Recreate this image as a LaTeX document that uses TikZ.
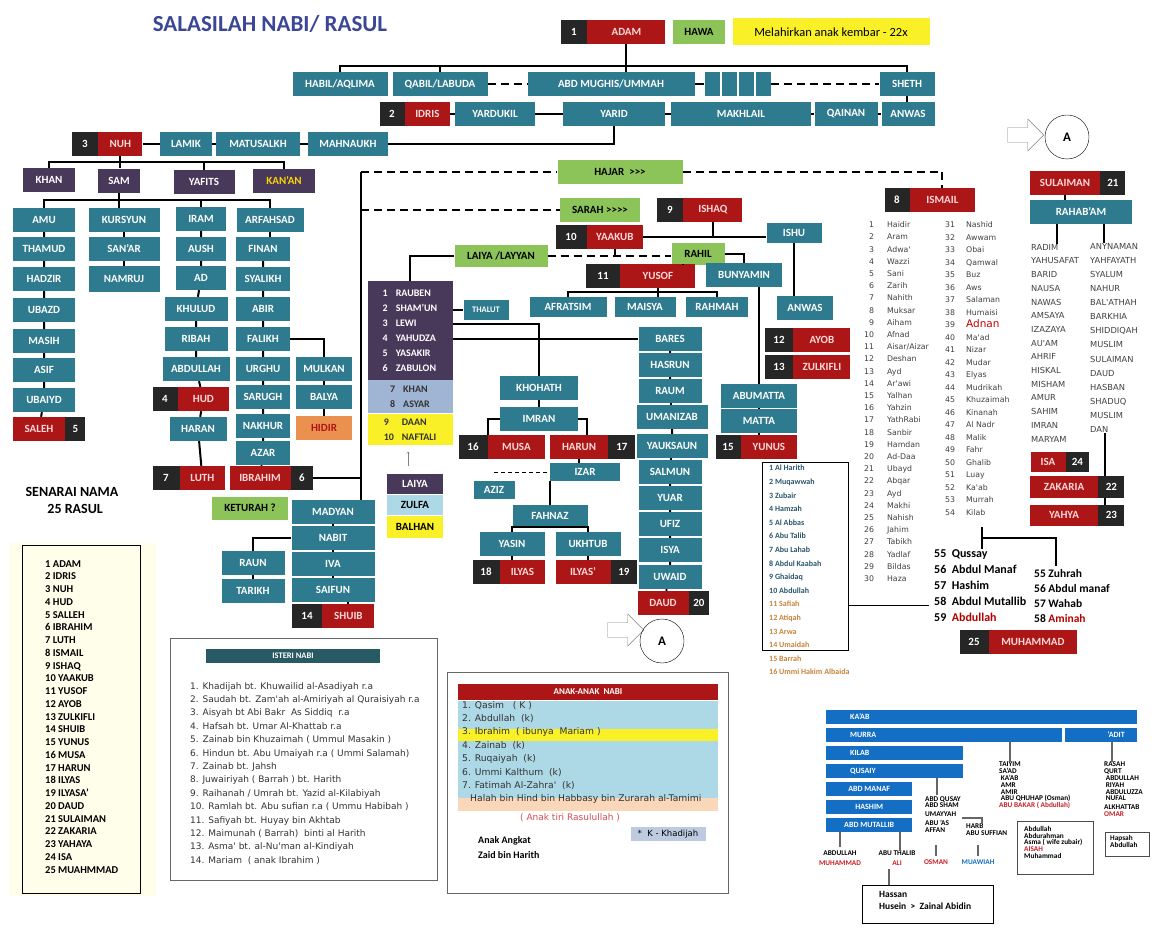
\documentclass[tikz,border=0pt]{standalone}
\usepackage{fontspec}
\setmainfont{Carlito}
\newfontfamily\listfont{DejaVu Sans}
\usetikzlibrary{positioning,shapes.arrows,backgrounds}
\definecolor{boxteal}{RGB}{46,122,142}
\definecolor{boxred}{RGB}{172,22,22}
\definecolor{boxdark}{RGB}{38,38,38}
\definecolor{boxpurple}{RGB}{72,56,90}
\definecolor{boxgreen}{RGB}{140,196,90}
\definecolor{boxyellow}{RGB}{250,240,40}
\definecolor{boxorange}{RGB}{235,145,80}
\definecolor{sonsblue}{RGB}{160,180,212}
\definecolor{qblue}{RGB}{20,110,195}
\definecolor{titleblue}{RGB}{60,70,150}
\definecolor{harithteal}{RGB}{40,85,105}
\definecolor{harithorange}{RGB}{200,130,60}
\definecolor{isteri}{RGB}{40,90,100}
\definecolor{lightblue}{RGB}{173,216,230}
\definecolor{peach}{RGB}{250,215,185}
\definecolor{notered}{RGB}{200,30,40}

\begin{document}
\begin{tikzpicture}[x=1pt,y=-1pt,
  box/.style={inner sep=0pt,minimum height=24,font=\fontsize{11}{12}\selectfont\bfseries,text=white},
  wd/.style={minimum width=#1},
  tb/.style={box,fill=boxteal},
  rb/.style={box,fill=boxred,text=red!15},
  nb/.style={box,fill=boxdark},
  pb/.style={box,fill=boxpurple},
  gb/.style={box,fill=boxgreen,text=black},
  ln/.style={line width=2pt},
  dl/.style={line width=2pt,dash pattern=on 8pt off 5pt},
  tl/.style={line width=1pt},
  lst/.style={anchor=north west,inner sep=0pt,align=left},
  qb/.style={inner sep=0pt,minimum height=14,fill=qblue,text=white,font=\fontsize{8}{9}\selectfont\bfseries},
  qt/.style={lst,font=\fontsize{7.3}{8.8}\selectfont\bfseries},
  ql/.style={line width=1.5pt,draw=black!60},
  ]
  \useasboundingbox (0,0) rectangle (1171,941);
  \node[text=titleblue,font=\fontsize{23}{24}\selectfont\bfseries] (title) at (270,24) {SALASILAH NABI/ RASUL};

  % adam and his children
  \node[nb,wd=26] (n1) at (574,32) {1};
  \node[rb,wd=78,right=0pt of n1] (adam) {ADAM};
  \node[gb,wd=52] (hawa) at (699,32) {HAWA};
  \node[box,fill=boxyellow,text=black,wd=197,minimum height=27,font=\fontsize{12.5}{13}\selectfont] (kembar) at (831,32) {Melahirkan anak kembar - 22x};
  \node[tb,wd=95] (habil) at (340,84) {HABIL/AQLIMA};
  \node[tb,wd=95] (qabil) at (440,84) {QABIL/LABUDA};
  \node[tb,wd=167] (abd) at (611,84) {ABD MUGHIS/UMMAH};
  \node[tb,wd=15] (sq1) at (712,84) {};
  \node[tb,wd=15] (sq2) at (729,84) {};
  \node[tb,wd=15] (sq3) at (746,84) {};
  \node[tb,wd=15] (sq4) at (763,84) {};
  \node[tb,wd=55] (sheth) at (907,84) {SHETH};
  \draw[ln] (habil.north) -- ++(0,-6) -| (sheth.north);
  \draw[ln] (qabil.north) -- ++(0,-6);
  \draw[ln] (adam.south) -- (adam.south |- abd.north);
  \draw[dl] (qabil.east) -- (abd.west);
  \draw[ln] (abd.east) -- (sq1.west);
  \draw[dl] (sq4.east) -- (sheth.west);

  \node[nb,wd=25] (n2) at (392,114) {2};
  \node[rb,wd=45,right=0pt of n2] (idris) {IDRIS};
  \node[tb,wd=80] (yardukil) at (495,114) {YARDUKIL};
  \node[tb,wd=102] (yarid) at (614,114) {YARID};
  \node[tb,wd=140] (makhlail) at (741,114) {MAKHLAIL};
  \node[tb,wd=63] (qainan) at (846,114) {QAINAN};
  \node[tb,wd=53] (anwas) at (908,114) {ANWAS};
  \draw[ln] (idris) -- (yardukil) -- (yarid) -- (makhlail) -- (qainan) -- (anwas);
  \draw[ln] (sheth.south) -- (sheth.south |- anwas.north);

  \node[nb,wd=26] (n3) at (85,144) {3};
  \node[rb,wd=44,right=0pt of n3] (nuh) {NUH};
  \node[tb,wd=52] (lamik) at (186,144) {LAMIK};
  \node[tb,wd=84] (matusalkh) at (258,144) {MATUSALKH};
  \node[tb,wd=80] (mahnaukh) at (348,144) {MAHNAUKH};
  \draw[ln] (nuh) -- (lamik) -- (matusalkh) -- (mahnaukh);
  \draw[ln] (yarid.south) |- (mahnaukh.east);

  % nuh and his sons
  \node[pb,wd=52] (khan) at (49,180) {KHAN};
  \node[pb,wd=42] (sam) at (119,181) {SAM};
  \node[pb,wd=61] (yafits) at (204,182) {YAFITS};
  \node[pb,wd=62,text=yellow!70!orange] (kanan) at (284,181) {KAN'AN};
  \draw[ln] (khan.north) -- ++(0,-6) -| (kanan.north);
  \draw[ln] (nuh.south) -- (nuh.south |- khan.north);
  \draw[ln] (yafits.north) -- ++(0,-8);

  \node[tb,wd=62] (amu) at (44,220) {AMU};
  \node[tb,wd=71] (kursyun) at (124,220) {KURSYUN};
  \node[tb,wd=50] (iram) at (201,219) {IRAM};
  \node[tb,wd=67] (arfahsad) at (270,220) {ARFAHSAD};
  \draw[ln] (amu.north) -- ++(0,-8) -| (arfahsad.north);
  \draw[ln] (sam.south) -- (sam.south |- kursyun.north);
  \draw[ln] (iram.north) -- ++(0,-7);

  \node[tb,wd=62] (thamud) at (44,249) {THAMUD};
  \node[tb,wd=62] (hadzir) at (44,279) {HADZIR};
  \node[tb,wd=62] (ubazd) at (44,310) {UBAZD};
  \node[tb,wd=62] (masih) at (44,341) {MASIH};
  \node[tb,wd=62] (asif) at (44,370) {ASIF};
  \node[tb,wd=62] (ubaiyd) at (44,400) {UBAIYD};
  \node[rb,wd=52] (saleh) at (39,429) {SALEH};
  \node[nb,wd=20,right=0pt of saleh] (n5) {5};
  \draw[ln] (amu) -- (thamud) -- (hadzir) -- (ubazd) -- (masih) -- (asif) -- (ubaiyd) -- (saleh);

  \node[tb,wd=71] (sanar) at (124,249) {SAN'AR};
  \node[tb,wd=71,minimum height=26] (namruj) at (124,279) {NAMRUJ};
  \draw[ln] (kursyun) -- (sanar) -- (namruj);

  \node[tb,wd=50] (aush) at (201,249) {AUSH};
  \node[tb,wd=50] (ad) at (201,278) {AD};
  \node[tb,wd=63] (khulud) at (196,309) {KHULUD};
  \node[tb,wd=63] (ribah) at (196,339) {RIBAH};
  \node[tb,wd=67] (abdullah) at (196,369) {ABDULLAH};
  \node[nb,wd=25] (n4) at (165,399) {4};
  \node[rb,wd=51,right=0pt of n4] (hud) {HUD};
  \node[tb,wd=57] (haran) at (198,429) {HARAN};
  \node[nb,wd=27] (n7) at (166,478) {7};
  \node[rb,wd=45,right=0pt of n7] (luth) {LUTH};
  \draw[ln] (iram) -- (aush) -- (ad) -- (khulud) -- (ribah) -- (abdullah) -- (hud) -- (haran) -- (luth);

  \node[tb,wd=54] (finan) at (263,249) {FINAN};
  \node[tb,wd=54] (syalikh) at (263,279) {SYALIKH};
  \node[tb,wd=54] (abir) at (263,309) {ABIR};
  \node[tb,wd=54] (falikh) at (263,339) {FALIKH};
  \node[tb,wd=54] (urghu) at (263,369) {URGHU};
  \node[tb,wd=54] (sarugh) at (263,397) {SARUGH};
  \node[tb,wd=54] (nakhur) at (263,426) {NAKHUR};
  \node[tb,wd=54] (azar) at (263,453) {AZAR};
  \node[rb,wd=61] (ibrahim) at (260,478) {IBRAHIM};
  \node[nb,wd=22,right=0pt of ibrahim] (n6) {6};
  \draw[ln] (arfahsad.south) -- (arfahsad.south |- finan.north);
  \draw[ln] (finan) -- (syalikh) -- (abir) -- (falikh) -- (urghu) -- (sarugh) -- (nakhur) -- (azar) -- (ibrahim);

  \node[tb,wd=56] (mulkan) at (324,369) {MULKAN};
  \node[tb,wd=56] (balya) at (324,397) {BALYA};
  \node[box,fill=boxorange,text=boxred,wd=56] (hidir) at (324,428) {HIDIR};
  \draw[ln] (falikh.east) -| (mulkan.north);
  \draw[ln] (mulkan) -- (balya) -- (hidir);

  % ibrahim and his wives
  \node[gb,wd=125] (hajar) at (620,172) {HAJAR \ >{}>{}>};
  \node[gb,wd=80] (sarah) at (600,210) {SARAH >{}>{}>{}>};
  \coordinate (trunk) at (361,172);
  \draw[ln] (trunk) -- (trunk |- n6.east) -- (n6.east);
  \node[gb,wd=76,minimum height=23] (keturah) at (250,508) {KETURAH ?};
  \node[tb,wd=83] (madyan) at (333,512) {MADYAN};
  \node[tb,wd=83] (nabit) at (333,538) {NABIT};
  \node[tb,wd=83] (iva) at (333,564) {IVA};
  \node[tb,wd=83] (saifun) at (333,590) {SAIFUN};
  \node[nb,wd=30] (n14) at (307,616) {14};
  \node[rb,wd=52,right=0pt of n14] (shuib) {SHUIB};
  \draw[ln] (trunk) -- (trunk |- madyan.north);
  \draw[ln] (madyan) -- (nabit) -- (iva) -- (saifun);
  \draw[ln] (saifun.south -| shuib.north) -- (shuib.north);
  \node[tb,wd=63] (raun) at (253,563) {RAUN};
  \node[tb,wd=63] (tarikh) at (253,591) {TARIKH};
  \draw[ln] (nabit.west) -| (raun.north);
  \draw[ln] (raun) -- (tarikh);
  \draw[dl] (trunk) -- (hajar.west);
  \draw[dl] (trunk |- sarah.west) -- (sarah.west);

  \node[nb,wd=25] (n8) at (897,200) {8};
  \node[rb,wd=65,right=0pt of n8] (ismail) {ISMAIL};
  \draw[dl] (hajar.east) -| (ismail.north);

  % ishaq and yaakub
  \node[nb,wd=26] (n9) at (670,210) {9};
  \node[rb,wd=59,right=0pt of n9] (ishaq) {ISHAQ};
  \node[tb,wd=55,minimum height=20] (ishu) at (794,233) {ISHU};
  \node[nb,wd=31] (n10) at (571,237) {10};
  \node[rb,wd=56,right=0pt of n10] (yaakub) {YAAKUB};
  \draw[ln] (yaakub.east) -- (yaakub.east -| ishu.west);
  \draw[ln] (ishaq.south) -- (ishaq.south |- yaakub.east);
  \node[gb,wd=93,minimum height=22] (laiya) at (501,256) {LAIYA /LAYYAN};
  \node[gb,wd=53,minimum height=22] (rahil) at (698,254) {RAHIL};
  \draw[dl] (laiya.east) -- (laiya.east -| rahil.west);
  \draw[ln] (yaakub.south) -- (yaakub.south |- laiya.east);

  \node[box,fill=boxpurple,wd=85,minimum height=99,font=\fontsize{10}{15}\selectfont\bfseries] (sons1) at (410,331) {\begin{tabular}{@{}l@{\hspace{8pt}}l@{}}1&RAUBEN\\2&SHAM'UN\\3&LEWI\\4&YAHUDZA\\5&YASAKIR\\6&ZABULON\end{tabular}};
  \node[box,fill=sonsblue,text=black!80,wd=85,minimum height=33,font=\fontsize{10}{15}\selectfont\bfseries] (sons2) at (410,397) {\begin{tabular}{@{}l@{\hspace{8pt}}l@{}}7&KHAN\\8&ASYAR\end{tabular}\hspace{20pt}};
  \node[box,fill=boxyellow,text=black!80,wd=85,minimum height=31,font=\fontsize{10}{15}\selectfont\bfseries] (sons3) at (410,430) {\begin{tabular}{@{}l@{\hspace{8pt}}l@{}}9&DAAN\\10&NAFTALI\end{tabular}\hspace{8pt}};
  \draw[ln] (laiya.west) -| (sons1.north);
  \node[tb,wd=45,minimum height=20,font=\fontsize{8.5}{9}\selectfont\bfseries] (thalut) at (486,310) {THALUT};
  \draw[ln] (sons1.east |- thalut.west) -- (thalut.west);

  \node[box,fill=boxpurple,wd=56,minimum height=20] (laiya2) at (415,484) {LAIYA};
  \node[box,fill=lightblue,text=black,wd=56,minimum height=20] (zulfa) at (415,505) {ZULFA};
  \node[box,fill=boxyellow,text=black,wd=56,minimum height=22] (balhan) at (415,527) {BALHAN};
  \draw[->,black!50] (laiya2.north) ++(-7,-8) -- ++(0,-14);

  \node[nb,wd=34] (n11) at (603,276) {11};
  \node[rb,wd=75,right=0pt of n11] (yusof) {YUSOF};
  \node[tb,wd=76] (bunyamin) at (744,275) {BUNYAMIN};
  \draw[ln] ([xshift=-15pt]rahil.south) -- ([xshift=-15pt]rahil.south |- yusof.north);
  \draw[ln] (rahil.east) -| (bunyamin.north);
  \node[tb,wd=77,minimum height=20] (afratsim) at (568,307) {AFRATSIM};
  \node[tb,wd=61,minimum height=20] (maisya) at (645,307) {MAISYA};
  \node[tb,wd=62,minimum height=20] (rahmah) at (717,307) {RAHMAH};
  \draw[ln] (afratsim.north) -- ++(0,-5) -| (rahmah.north);
  \draw[ln] (yusof.south) -- (yusof.south |- afratsim.north);

  \node[tb,wd=76] (abumatta) at (759,396) {ABUMATTA};
  \node[tb,wd=76] (matta) at (759,421) {MATTA};
  \node[nb,wd=25] (n15) at (728,447) {15};
  \node[rb,wd=56,right=0pt of n15] (yunus) {YUNUS};
  \draw[ln] (abumatta.north) -- (abumatta.north |- bunyamin.south);
  \draw[ln] (abumatta) -- (matta);
  \draw[ln] (matta.south) -- (matta.south |- yunus.north);

  \node[tb,wd=56] (anwas2) at (805,308) {ANWAS};
  \node[nb,wd=28] (n12) at (779,340) {12};
  \node[rb,wd=57,right=0pt of n12] (ayob) {AYOB};
  \node[nb,wd=28] (n13) at (779,367) {13};
  \node[rb,wd=57,right=0pt of n13] (zulkifli) {ZULKIFLI};
  \draw[ln] (ishu.south) -- (ishu.south |- anwas2.north);

  % lewi and yahudza
  \node[tb,wd=78] (khohath) at (539,388) {KHOHATH};
  \node[tb,wd=78] (imran) at (539,419) {IMRAN};
  \draw[ln] ([yshift=7pt]sons1.east) -| (khohath.north);
  \draw[ln] (khohath) -- (imran);
  \node[nb,wd=29] (n16) at (473,447) {16};
  \node[rb,wd=57,right=0pt of n16] (musa) {MUSA};
  \node[rb,wd=58] (harun) at (579,447) {HARUN};
  \node[nb,wd=27,right=0pt of harun] (n17) {17};
  \draw[ln] (imran.west) -| (n16.north east);
  \draw[ln] (imran.east) -| ([xshift=8pt]harun.north);
  \node[tb,wd=70,minimum height=18] (izar) at (585,472) {IZAR};
  \node[tb,wd=41,minimum height=18] (aziz) at (494,490) {AZIZ};
  \draw[ln] (harun.south) -- (harun.south |- izar.north);
  \draw[tl,dash pattern=on 4pt off 3pt] (aziz.north |- izar.west) -- (izar.west);
  \node[tb,wd=75,minimum height=22] (fahnaz) at (550,516) {FAHNAZ};
  \draw[ln] (izar.south -| fahnaz.north) -- (fahnaz.north);
  \node[tb,wd=65] (yasin) at (512,544) {YASIN};
  \node[tb,wd=65] (ukhtub) at (588,544) {UKHTUB};
  \draw[ln] (yasin.north) -- ++(0,-5) -| (ukhtub.north);
  \node[nb,wd=27] (n18) at (486,572) {18};
  \node[rb,wd=45,right=0pt of n18] (ilyas) {ILYAS};
  \node[rb,wd=55] (ilyasb) at (583,572) {ILYAS'};
  \node[nb,wd=26,right=0pt of ilyasb] (n19) {19};
  \draw[ln] (yasin.south) -- (yasin.south |- ilyas.north);
  \draw[ln] (ukhtub.south) -- (ukhtub.south |- ilyasb.north);

  \node[tb,wd=63] (bares) at (670,339) {BARES};
  \node[tb,wd=63] (hasrun) at (670,365) {HASRUN};
  \node[tb,wd=63] (raum) at (670,391) {RAUM};
  \node[tb,wd=71] (umanizab) at (672,417) {UMANIZAB};
  \node[tb,wd=71] (yauksaun) at (672,446) {YAUKSAUN};
  \node[tb,wd=63] (salmun) at (670,472) {SALMUN};
  \node[tb,wd=63] (yuar) at (670,498) {YUAR};
  \node[tb,wd=63] (ufiz) at (670,524) {UFIZ};
  \node[tb,wd=63] (isya) at (670,550) {ISYA};
  \node[tb,wd=63] (uwaid) at (670,577) {UWAID};
  \node[rb,wd=51] (daud) at (663,603) {DAUD};
  \node[nb,wd=20,right=0pt of daud] (n20) {20};
  \draw[ln] (bares) -- (hasrun) -- (raum) -- (umanizab) -- (yauksaun) -- (salmun) -- (yuar) -- (ufiz) -- (isya) -- (uwaid) -- (daud);
  \draw[ln] (sons1.east |- bares.west) -- (bares.west);

  % links to A
  \node[single arrow,draw=black!50,fill=white,minimum height=36,minimum width=32,single arrow head extend=4pt] (arra) at (1022,135) {};
  \node[circle,draw,minimum size=44,font=\fontsize{13}{13}\selectfont\bfseries] (ca) at (1067,137) {A};
  \node[single arrow,draw=black!50,fill=white,minimum height=36,minimum width=32,single arrow head extend=4pt] (arrb) at (622,630) {};
  \node[circle,draw,minimum size=44,font=\fontsize{13}{13}\selectfont\bfseries] (cb) at (662,641) {A};

  % ismail line
  \node[lst,font=\listfont\fontsize{7.8}{12.2}\selectfont,text=black!75] (isml) at (864,219) {\begin{tabular}{@{}r@{\hspace{13pt}}l@{}}1&Haidir\\2&Aram\\3&Adwa'\\4&Wazzi\\5&Sani\\6&Zarih\\7&Nahith\\8&Muksar\\9&Aiham\\10&Afnad\\11&Aisar/Aizar\\12&Deshan\\13&Ayd\\14&Ar'awi\\15&Yalhan\\16&Yahzin\\17&YathRabi\\18&Sanbir\\19&Hamdan\\20&Ad-Daa\\21&Ubayd\\22&Abqar\\23&Ayd\\24&Makhi\\25&Nahish\\26&Jahim\\27&Tabikh\\28&Yadlaf\\29&Bildas\\30&Haza\end{tabular}};
  \node[lst,font=\listfont\fontsize{7.8}{12.5}\selectfont,text=black!75] (ismr) at (945,219) {\begin{tabular}{@{}r@{\hspace{11pt}}l@{}}31&Nashid\\32&Awwam\\33&Obai\\34&Qamwal\\35&Buz\\36&Aws\\37&Salaman\\38&Humaisi\\39&{\fontsize{10.5}{12}\selectfont\color{red!75!black}Adnan}\\40&Ma'ad\\41&Nizar\\42&Mudar\\43&Elyas\\44&Mudrikah\\45&Khuzaimah\\46&Kinanah\\47&Al Nadr\\48&Malik\\49&Fahr\\50&Ghalib\\51&Luay\\52&Ka'ab\\53&Murrah\\54&Kilab\end{tabular}};
  \coordinate (kilab) at (982,527);
  \coordinate (kjoin) at (982,538);
  \node[lst,font=\fontsize{12}{16}\selectfont\bfseries] (qussay) at (934,549) {55 \ Qussay\\56 \ Abdul Manaf\\57 \ Hashim\\58 \ Abdul Mutallib\\59 \ \textcolor{red!70!black}{Abdullah}};
  \node[lst,font=\fontsize{11.5}{15}\selectfont\bfseries] (zuhrah) at (1034,569) {55 Zuhrah\\56 Abdul manaf\\57 Wahab\\58 \textcolor{red!70!black}{Aminah}};
  \draw[tl,line width=1.5pt] (kilab) -- (kjoin |- qussay.north);
  \draw[tl,line width=1.5pt] (kjoin) -| (1056,566);
  \node[nb,wd=29] (n25) at (974,642) {25};
  \node[rb,wd=88,right=0pt of n25] (muhammad) {MUHAMMAD};

  \node[draw,tl,minimum width=86,minimum height=188,inner sep=0pt] (harith) at (805,556) {};
  \node[lst,font=\fontsize{8}{13.6}\selectfont\bfseries,text=harithteal] (harithl) at (769,465) {1 Al Harith\\2 Muqawwah\\3 Zubair\\4 Hamzah\\5 Al Abbas\\6 Abu Talib\\7 Abu Lahab\\8 Abdul Kaabah\\9 Ghaidaq\\10 Abdullah\\\textcolor{harithorange}{11 Safiah}\\\textcolor{harithorange}{12 Atiqah}\\\textcolor{harithorange}{13 Arwa}\\\textcolor{harithorange}{14 Umaidah}\\\textcolor{harithorange}{15 Barrah}\\\textcolor{harithorange}{16 Ummi Hakim Albaida}};
  \coordinate (muty) at (0,605);
  \draw[tl] (harith.east |- muty) -- (929,605);

  % sulaiman
  \node[rb,wd=70] (sulaiman) at (1065,183) {SULAIMAN};
  \node[nb,wd=25,right=0pt of sulaiman] (n21) {21};
  \node[tb,wd=102] (rahabam) at (1081,212) {RAHAB'AM};
  \draw[ln] (sulaiman.south) -- (sulaiman.south |- rahabam.north);
  \node[lst,font=\listfont\fontsize{8.3}{13.7}\selectfont,text=black!75] (listl) at (1031,244) {RADIM\\YAHUSAFAT\\BARID\\NAUSA\\NAWAS\\AMSAYA\\IZAZAYA\\AU'AM\\AHRIF\\HISKAL\\MISHAM\\AMUR\\SAHIM\\IMRAN\\MARYAM};
  \node[lst,font=\listfont\fontsize{8.3}{14.1}\selectfont,text=black!75] (listr) at (1090,243) {ANYNAMAN\\YAHFAYATH\\SYALUM\\NAHUR\\BAL'ATHAH\\BARKHIA\\SHIDDIQAH\\MUSLIM\\SULAIMAN\\DAUD\\HASBAN\\SHADUQ\\MUSLIM\\DAN};
  \draw[ln] ([xshift=-24pt]rahabam.south) -- ([xshift=-24pt]rahabam.south |- listl.north);
  \draw[ln] ([xshift=23pt]rahabam.south) -- ([xshift=23pt]rahabam.south |- listr.north);
  \node[rb,wd=35,minimum height=20] (isa) at (1048,462) {ISA};
  \node[nb,wd=23,minimum height=20,right=0pt of isa] (n24) {24};
  \node[rb,wd=68,minimum height=22] (zakaria) at (1064,487) {ZAKARIA};
  \node[nb,wd=26,minimum height=22,right=0pt of zakaria] (n22) {22};
  \node[rb,wd=68,minimum height=21] (yahya) at (1064,515) {YAHYA};
  \node[nb,wd=26,minimum height=21,right=0pt of yahya] (n23) {23};
  \draw[tl,line width=1.5pt] (listr.south -| 1105,0) -- (1105,476);
  \draw[tl,line width=1.5pt] (1105,498) -- (1105,505);

  % senarai
  \node[align=center,font=\fontsize{14}{17}\selectfont\bfseries] (senarai) at (72,500) {SENARAI NAMA\\\ \ 25 RASUL};
  \node[fill=yellow!8,minimum width=147,minimum height=353,inner sep=0pt] (senbg) at (82,719) {};
  \node[draw,tl,minimum width=118,minimum height=348,inner sep=0pt] (senbox) at (81,719) {};
  \node[lst,font=\fontsize{10.5}{12.75}\selectfont\bfseries] (senl) at (45,560) {1 ADAM\\2 IDRIS\\3 NUH\\4 HUD\\5 SALLEH\\6 IBRAHIM\\7 LUTH\\8 ISMAIL\\9 ISHAQ\\10 YAAKUB\\11 YUSOF\\12 AYOB\\13 ZULKIFLI\\14 SHUIB\\15 YUNUS\\16 MUSA\\17 HARUN\\18 ILYAS\\19 ILYASA'\\20 DAUD\\21 SULAIMAN\\22 ZAKARIA\\23 YAHAYA\\24 ISA\\25 MUAHMMAD};

  % isteri nabi
  \node[draw=black!60,minimum width=267,minimum height=242,inner sep=0pt] (istbox) at (304,759) {};
  \node[fill=isteri,text=white,minimum width=174,minimum height=14,inner sep=0pt,font=\fontsize{8.5}{9}\selectfont\bfseries] (isthead) at (293,656) {ISTERI NABI};
  \node[lst,font=\listfont\fontsize{9}{13.4}\selectfont,text=black!80] (istl) at (190,682) {1. Khadijah bt. Khuwailid al-Asadiyah r.a\\2. Saudah bt. Zam'ah al-Amiriyah al Quraisiyah r.a\\3. Aisyah bt Abi Bakr \ As Siddiq \ r.a\\4. Hafsah bt. Umar Al-Khattab r.a\\5. Zainab bin Khuzaimah ( Ummul Masakin )\\6. Hindun bt. Abu Umaiyah r.a ( Ummi Salamah)\\7. Zainab bt. Jahsh\\8. Juwairiyah ( Barrah ) bt. Harith\\9. Raihanah / Umrah bt. Yazid al-Kilabiyah\\10. Ramlah bt. Abu sufian r.a ( Ummu Habibah )\\11. Safiyah bt. Huyay bin Akhtab\\12. Maimunah ( Barrah) \ binti al Harith\\13. Asma' bt. al-Nu'man al-Kindiyah\\14. Mariam \ ( anak Ibrahim )};

  % anak-anak nabi
  \node[draw=black!60,minimum width=281,minimum height=221,inner sep=0pt] (anakbox) at (588,783) {};
  \node[fill=boxred,text=white,minimum width=260,minimum height=16,inner sep=0pt,font=\fontsize{9}{10}\selectfont\bfseries] (anakhead) at (588,692) {ANAK-ANAK \ NABI};
  \node[fill=lightblue,minimum width=260,minimum height=97,inner sep=0pt] (anakband) at (588,749) {};
  \node[fill=boxyellow,minimum width=260,minimum height=12,inner sep=0pt] (anakyel) at (588,735) {};
  \node[fill=peach,minimum width=260,minimum height=13,inner sep=0pt] (anakpeach) at (588,804) {};
  \node[lst,font=\listfont\fontsize{9.2}{13.4}\selectfont,text=black!80] (anakl) at (462,701) {1. Qasim \ \ ( K )\\2. Abdullah \ (k)\\3. Ibrahim \ ( ibunya \ Mariam )\\4. Zainab \ (k)\\5. Ruqaiyah \ (k)\\6. Ummi Kalthum \ (k)\\7. Fatimah Al-Zahra' \ (k)\\\hspace{8pt}Halah bin Hind bin Habbasy bin Zurarah al-Tamimi};
  \node[text=notered!80,font=\listfont\fontsize{9}{10}\selectfont] (tiri) at (570,818) {( Anak tiri Rasulullah )};
  \node[fill=sonsblue!70,minimum width=75,minimum height=14,inner sep=0pt,font=\listfont\fontsize{8.5}{9}\selectfont] (khadijah) at (668,834) {* \ K - Khadijah};
  \node[lst,font=\fontsize{10}{15}\selectfont\bfseries] (angkat) at (478,836) {Anak Angkat\\Zaid bin Harith};

  % quraysh chart
  \node[qb,anchor=west,text width=263,align=left,inner xsep=24pt] (kaab) at (826,717) {KA'AB};
  \node[qb,anchor=west,text width=188,align=left,inner xsep=24pt] (murra) at (826,735) {MURRA};
  \node[qb,anchor=west,minimum width=72] (adit) at (1065,735) {\hspace{30pt}'ADIT};
  \node[qb,anchor=west,text width=89,align=left,inner xsep=24pt] (kilab2) at (826,753) {KILAB};
  \node[qb,anchor=west,text width=89,align=left,inner xsep=24pt] (qusaiy) at (826,771) {QUSAIY};
  \node[qb,anchor=west,minimum width=86] (abdmanaf) at (826,789) {ABD MANAF};
  \node[qb,anchor=west,minimum width=86] (hashim) at (826,807) {HASHIM};
  \node[qb,anchor=west,minimum width=86] (abdmut) at (826,825) {ABD MUTALLIB};
  \node[align=center,font=\fontsize{7.3}{10}\selectfont\bfseries] (qabdullah) at (840,858) {ABDULLAH\\\textcolor{notered}{MUHAMMAD}};
  \node[align=center,font=\fontsize{7.3}{10}\selectfont\bfseries] (qthalib) at (897,858) {ABU THALIB\\\textcolor{notered}{ALI}};
  \draw[ql] (abdmut.south -| qabdullah.north) -- (qabdullah.north);
  \draw[ql] (abdmut.south -| 900,0) -- (900,851);
  \node[qt] (qusayl) at (925,797) {ABD QUSAY\\[-3pt]ABD SHAM\\UMAYYAH\\ABU 'AS\\[-2pt]AFFAN};
  \draw[ql] (qusaiy.south -| 937,0) -- (937,795);
  \node[font=\fontsize{7.3}{8}\selectfont\bfseries,text=notered] (osman) at (936,862) {OSMAN};
  \draw[ql] (osman.north) -- ++(0,-11);
  \node[qt] (harb) at (966,824) {HARB\\[-2pt]ABU SUFFIAN};
  \draw[ql] (962,818) -| (harb.north -| 982,0);
  \node[font=\fontsize{7.3}{8}\selectfont\bfseries,text=qblue] (muawiah) at (978,862) {MUAWIAH};
  \draw[ql] (muawiah.north) -- ++(0,-11);
  \node[qt] (taiyim) at (999,762) {TAIYIM\\[-2pt]SA'AD\\[-2pt]\ KA'AB\\[-2pt]\ AMR\\[-2pt]\ AMIR\\[-2pt]\ ABU QHUHAP (Osman)\\[-2pt]\textcolor{notered}{ABU BAKAR ( Abdullah)}};
  \draw[ql] (murra.south -| 1010,0) -- (taiyim.north -| 1010,0);
  \node[draw,line width=1pt,draw=black!70,minimum width=76,minimum height=53,inner sep=0pt] (aisbox) at (1055,848) {};
  \node[qt] (aisl) at (1024,826) {Abdullah\\[-2pt]Abdurahman\\[-2pt]Asma ( wife zubair)\\[-2pt]\textcolor{notered}{AISAH}\\[-2pt]Muhammad};
  \node[qt] (rasah) at (1104,762) {RASAH\\[-2pt]QURT\\[-2pt]\ ABDULLAH\\[-2pt]\ RIYAH\\[-2pt]\ ABDULUZZA\\[-2pt]\ NUFAL\\ALKHATTAB\\[-2pt]\textcolor{notered}{OMAR}};
  \draw[ql] (adit.south -| 1112,0) -- (rasah.north -| 1112,0);
  \node[draw,line width=1pt,draw=black!70,minimum width=44,minimum height=24,inner sep=0pt] (hapbox) at (1127,844) {};
  \node[qt] (hapl) at (1110,835) {Hapsah\\[-2pt]Abdullah};
  \node[draw,line width=1pt,minimum width=131,minimum height=38,inner sep=0pt] (hasbox) at (928,904) {};
  \node[lst,font=\fontsize{9.5}{12}\selectfont\bfseries] (hassan) at (879,891) {Hassan\\Husein \ > \ Zainal Abidin};
  \draw[ql] (qthalib.south -| 889,0) -- (hasbox.north -| 889,0);
\end{tikzpicture}
\end{document}
